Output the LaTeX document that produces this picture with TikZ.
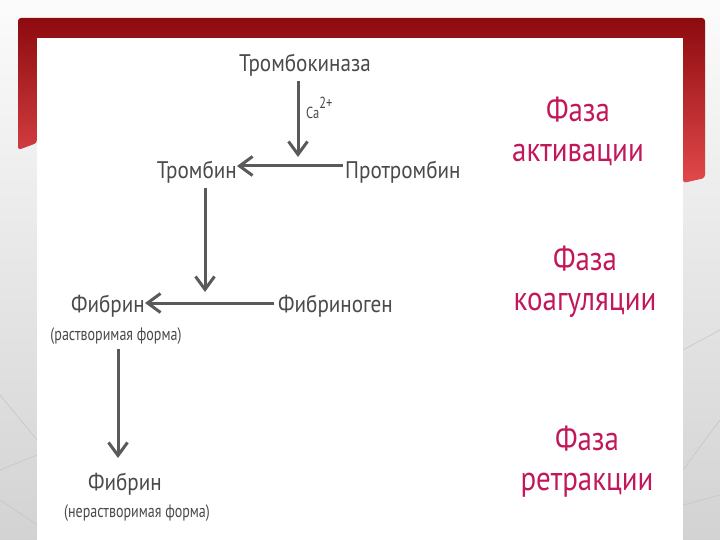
\documentclass[tikz,border=0pt]{standalone}
\usepackage{fontspec}
\setmainfont{PT Sans}
\newfontfamily\stagefont[FakeStretch=0.88]{PT Sans}
\newfontfamily\formfont[FakeStretch=0.78]{PT Sans}
\newfontfamily\phasefont[FakeStretch=0.85]{PT Sans}
\usetikzlibrary{arrows.meta,positioning}
\begin{document}
\begin{tikzpicture}[x=1pt,y=-1pt,node distance=2cm]
    \definecolor{frame-dark}{HTML}{8C0A0E}
    \definecolor{frame-light}{HTML}{E2494B}
    \definecolor{text-gray}{HTML}{4A4A4A}
    \definecolor{arrow-gray}{HTML}{5A5A5A}
    \definecolor{phase-color}{HTML}{C2185B}
    \tikzstyle{every node}=[inner sep=0pt]
    \tikzstyle{stage} = [text=text-gray, font=\stagefont\fontsize{24}{26}\selectfont]
    \tikzstyle{form} = [text=text-gray, font=\formfont\fontsize{18}{20}\selectfont]
    \tikzstyle{phase} = [text=phase-color, font=\phasefont\fontsize{34}{40}\selectfont, align=center]
    \tikzstyle{flow} = [draw=arrow-gray, line width=3pt, -{Straight Barb[length=13pt,width=19pt]}]
    % slide background and frame
    \useasboundingbox (0,0) rectangle (720,540);
    \shade[top color=gray!3, bottom color=gray!35] (0,0) rectangle (720,540);
    \draw[gray!45, line width=0.6pt] (0,395) -- (37,440) (0,470) -- (37,455) (0,500) -- (37,525)
        (683,350) -- (720,330) (683,470) -- (720,420) (683,505) -- (720,495);
    \shade[top color=frame-dark, bottom color=frame-light, rounded corners=3pt]
        (18,18) -- (705,18) -- (705,178) -- (683,183) -- (683,38) -- (37,38) -- (37,143) -- (18,150) -- cycle;
    \fill[white] (37,38) rectangle (683,540);
        % stages
        \node (kinase) [stage, anchor=base] at (305,72) {Тромбокиназа};
        \node (prothrombin) [stage, anchor=base west] at (345,179) {Протромбин};
        \node (thrombin) [stage, anchor=base east] at (237,179) {Тромбин};
        \node (calcium) [form, font=\formfont\fontsize{16}{18}\selectfont, anchor=base west] at (306,119) {Ca\raisebox{1.3ex}{2+}};
        \node (fibrinogen) [stage, anchor=base west] at (278,312) {Фибриноген};
        \node (fibrin1) [stage, anchor=base east] at (145,312) {Фибрин};
        \node (soluble) [form] at (116,336) {(растворимая форма)};
        \node (fibrin2) [stage, anchor=base] at (125,490) {Фибрин};
        \node (insoluble) [form] at (137,513) {(нерастворимая форма)};
        % phases
        \node (phase1) [phase] at (578,131) {Фаза\\активации};
        \node (phase2) [phase] at (585,282) {Фаза\\коагуляции};
        \node (phase3) [phase] at (587,462) {Фаза\\ретракции};
        % arrows
        \coordinate (join1) at (298,157);
        \coordinate (join2) at (205,292);
        \draw[flow] (kinase.south -| join1) ++(0,4) -- (join1);
        \draw[flow] (prothrombin.west |- 0,166) ++(-2,0) -- (thrombin.east |- 0,166);
        \draw[flow] (thrombin.south -| join2) ++(0,4) -- (join2);
        \draw[flow] (fibrinogen.west |- 0,303) ++(-4,0) -- (fibrin1.east |- 0,303);
        \draw[flow] (soluble.south -| 118,0) ++(0,4) -- (118,458);
\end{tikzpicture}
\end{document}
